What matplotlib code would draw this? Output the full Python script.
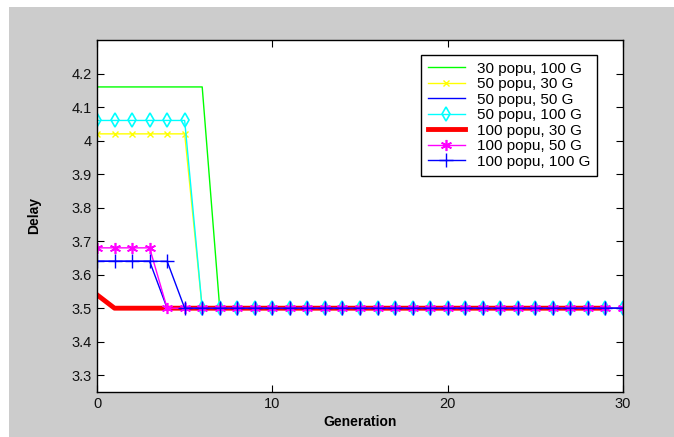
import matplotlib
matplotlib.use("Agg")
import matplotlib.pyplot as plt
from matplotlib.patches import Rectangle

# generation index (0..30 visible)
gen = list(range(31))

# values
popu30_g100 = [4.16, 4.16, 4.16, 4.16, 4.16, 4.16, 4.16, 3.5, 3.5, 3.5, 3.5, 3.5, 3.5, 3.5, 3.5, 3.5,
               3.5, 3.5, 3.5, 3.5, 3.5, 3.5, 3.5, 3.5, 3.5, 3.5, 3.5, 3.5, 3.5, 3.5, 3.5]
popu50_g30 = [4.02, 4.02, 4.02, 4.02, 4.02, 4.02, 3.5, 3.5, 3.5, 3.5, 3.5, 3.5, 3.5, 3.5, 3.5,
              3.5, 3.5, 3.5, 3.5, 3.5, 3.5, 3.5, 3.5, 3.5, 3.5, 3.5, 3.5, 3.5, 3.5, 3.5]
popu50_g50 = [3.64, 3.64, 3.64, 3.64, 3.5, 3.5, 3.5, 3.5, 3.5, 3.5, 3.5, 3.5, 3.5, 3.5, 3.5, 3.5,
              3.5, 3.5, 3.5, 3.5, 3.5, 3.5, 3.5, 3.5, 3.5, 3.5, 3.5, 3.5, 3.5, 3.5, 3.5]
popu50_g100 = [4.06, 4.06, 4.06, 4.06, 4.06, 4.06, 3.5, 3.5, 3.5, 3.5, 3.5, 3.5, 3.5, 3.5, 3.5, 3.5,
               3.5, 3.5, 3.5, 3.5, 3.5, 3.5, 3.5, 3.5, 3.5, 3.5, 3.5, 3.5, 3.5, 3.5, 3.5]
popu100_g30 = [3.54, 3.5, 3.5, 3.5, 3.5, 3.5, 3.5, 3.5, 3.5, 3.5, 3.5, 3.5, 3.5, 3.5, 3.5,
               3.5, 3.5, 3.5, 3.5, 3.5, 3.5, 3.5, 3.5, 3.5, 3.5, 3.5, 3.5, 3.5, 3.5, 3.5]
popu100_g50 = [3.68, 3.68, 3.68, 3.68, 3.5, 3.5, 3.5, 3.5, 3.5, 3.5, 3.5, 3.5, 3.5, 3.5, 3.5, 3.5,
               3.5, 3.5, 3.5, 3.5, 3.5, 3.5, 3.5, 3.5, 3.5, 3.5, 3.5, 3.5, 3.5, 3.5, 3.5]
popu100_g100 = [3.64, 3.64, 3.64, 3.64, 3.64, 3.5, 3.5, 3.5, 3.5, 3.5, 3.5, 3.5, 3.5, 3.5, 3.5, 3.5,
                3.5, 3.5, 3.5, 3.5, 3.5, 3.5, 3.5, 3.5, 3.5, 3.5, 3.5, 3.5, 3.5, 3.5, 3.5]

labels = ["30 popu, 100 G", "50 popu, 30 G", "50 popu, 50 G", "50 popu, 100 G",
          "100 popu, 30 G", "100 popu, 50 G", "100 popu, 100 G"]
x_ticks = [0, 10, 20, 30]
y_ticks = [3.3, 3.4, 3.5, 3.6, 3.7, 3.8, 3.9, 4.0, 4.1, 4.2]
y_ticklabels = ["3.3", "3.4", "3.5", "3.6", "3.7", "3.8", "3.9", "4", "4.1", "4.2"]

plt.rcParams["font.family"] = ["Liberation Sans", "DejaVu Sans"]

W, H = 674, 437
fig = plt.figure(figsize=(W / 100, H / 100), dpi=100, facecolor="white")
# gray panel, leaving the thin white strip on top/left
fig.patches.append(Rectangle((9 / W, 0), 1, 1 - 7 / H, transform=fig.transFigure,
                             facecolor="#cccccc", edgecolor="none", zorder=-1))

ax = fig.add_axes([97 / W, 1 - 392 / H, (623 - 97) / W, (392 - 40) / H])
ax.set_facecolor("white")

ax.plot(gen[:len(popu30_g100)], popu30_g100, color="#00ff00", lw=1, label=labels[0])
ax.plot(gen[:len(popu50_g30)], popu50_g30, color="#ffff00", lw=1, marker="x", ms=5,
        label=labels[1])
ax.plot(gen[:len(popu50_g50)], popu50_g50, color="#0000ff", lw=1, label=labels[2])
ax.plot(gen[:len(popu50_g100)], popu50_g100, color="#00ffff", lw=1, marker="d", ms=7,
        mfc="none", mew=1.2, label=labels[3])
ax.plot(gen[:len(popu100_g30)], popu100_g30, color="#ff0000", lw=3.5, label=labels[4])
ax.plot(gen[:len(popu100_g50)], popu100_g50, color="#ff00ff", lw=1, marker=(6, 2, 0), ms=8,
        mew=1.2, label=labels[5])
ax.plot(gen[:len(popu100_g100)], popu100_g100, color="#0000ff", lw=1, marker="+", ms=10,
        mew=1, label=labels[6])

ax.set_xlim(0, 30)
ax.set_ylim(3.25, 4.3)
ax.set_xticks(x_ticks)
ax.set_yticks(y_ticks)
ax.set_yticklabels(y_ticklabels)
ax.tick_params(direction="in", top=True, right=True, length=5, labelsize=10.5,
               labelcolor="#111111")
for s in ax.spines.values():
    s.set_linewidth(1)

ax.set_xlabel("Generation", fontsize=10, fontweight="bold", labelpad=3)
ax.set_ylabel("Delay", fontsize=10, fontweight="bold", labelpad=22)

leg = ax.legend(loc="upper right", bbox_to_anchor=(0.951, 0.958), fontsize=11,
                fancybox=False, edgecolor="black", framealpha=1, handlelength=2.4,
                borderpad=0.45, labelspacing=0.1, handletextpad=0.8, borderaxespad=0)
leg.get_frame().set_linewidth(1)

fig.savefig("out.png", dpi=100, facecolor=fig.get_facecolor())
